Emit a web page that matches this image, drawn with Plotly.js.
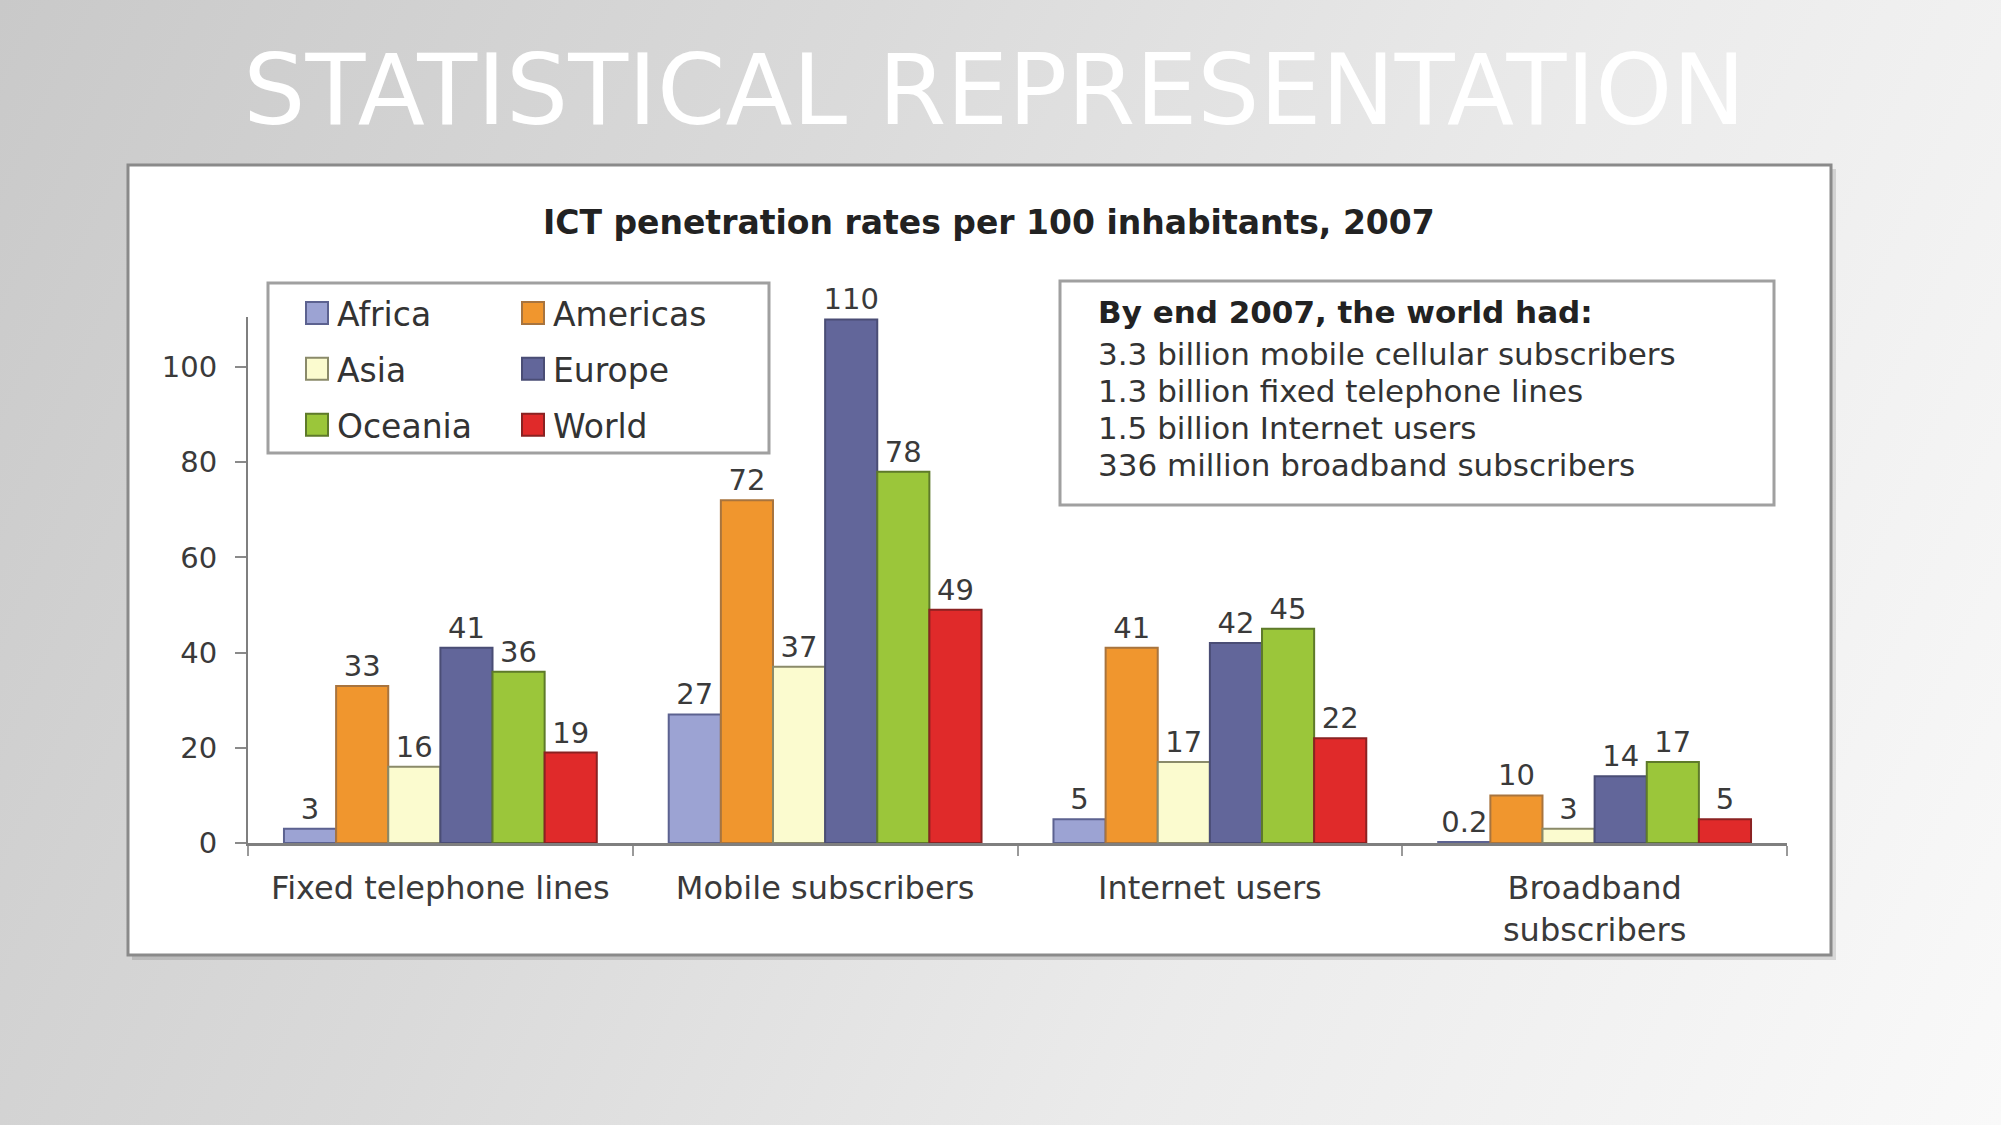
<!DOCTYPE html>
<html>
<head>
<meta charset="utf-8">
<script src="https://cdn.plot.ly/plotly-3.0.1.min.js"></script>
<style>
  html, body { margin: 0; padding: 0; width: 2001px; height: 1125px; overflow: hidden; }
  body { background: linear-gradient(115deg, #c9c9c9 0%, #dadada 35%, #ebebeb 65%, #f9f9f9 100%); }
  #chart { width: 2001px; height: 1125px; }
</style>
</head>
<body>
<div id="chart"></div>
<script>
// ---- Data ----
const categories = ["Fixed telephone lines", "Mobile subscribers", "Internet users", "Broadband<br>subscribers"];
const regions = ["Africa", "Americas", "Asia", "Europe", "Oceania", "World"];
const africa   = [3, 27, 5, 0.2];
const americas = [33, 72, 41, 10];
const asia     = [16, 37, 17, 3];
const europe   = [41, 110, 42, 14];
const oceania  = [36, 78, 45, 17];
const world    = [19, 49, 22, 5];
const yTickVals = [0, 20, 40, 60, 80, 100];
const pageTitle = "STATISTICAL REPRESENTATION";
const chartTitle = "ICT penetration rates per 100 inhabitants, 2007";
const infoHeading = "By end 2007, the world had:";
const infoLines = [
  "3.3 billion mobile cellular subscribers",
  "1.3 billion fixed telephone lines",
  "1.5 billion Internet users",
  "336 million broadband subscribers"
];

// ---- Styles ----
const seriesValues = [africa, americas, asia, europe, oceania, world];
const fills   = ["#9ca3d3", "#f0962e", "#fbfbcf", "#62669a", "#9bc63a", "#e02a2a"];
const borders = ["#5c6290", "#a8743e", "#8a8a6a", "#4a4d75", "#5e7a2a", "#8a2222"];
const legendOf = ["legend", "legend2", "legend", "legend2", "legend", "legend2"];
const FONT = "DejaVu Sans, Arial, sans-serif";

// pixel -> paper helpers (plot area: x 248..1787, y 317..843)
const L = 248, R = 1787, T = 317, B = 843;
const px = v => (v - L) / (R - L);
const py = v => (B - v) / (B - T);

const traces = regions.map((name, i) => ({
  type: "bar",
  name: name,
  x: categories,
  y: seriesValues[i],
  text: seriesValues[i].map(v => String(v)),
  textposition: "outside",
  constraintext: "none",
  cliponaxis: false,
  textfont: { family: FONT, size: 29, color: "#3a3a3a" },
  marker: { color: fills[i], line: { color: borders[i], width: 2 } },
  legend: legendOf[i],
  legendgroup: name,
  hoverinfo: "x+y+name"
}));

const legendCommon = {
  orientation: "v",
  bgcolor: "rgba(0,0,0,0)",
  borderwidth: 0,
  font: { family: FONT, size: 33, color: "#333333" },
  traceorder: "grouped",
  tracegroupgap: 10,
  xanchor: "left",
  yanchor: "top",
  itemclick: false,
  itemdoubleclick: false
};

const infoY = [353.5, 390.5, 427.5, 464.5];
const infoAnnotations = infoLines.map((t, i) => ({
  text: t, xref: "paper", yref: "paper",
  x: px(1096), y: py(infoY[i]), xanchor: "left", yanchor: "middle", align: "left", showarrow: false,
  font: { family: FONT, size: 31, color: "#333333" }
}));

const layout = {
  width: 2001,
  height: 1125,
  autosize: false,
  margin: { l: L, r: 2001 - R, t: T, b: 1125 - B, pad: 0 },
  paper_bgcolor: "rgba(0,0,0,0)",
  plot_bgcolor: "rgba(0,0,0,0)",
  title: {
    text: pageTitle,
    font: { family: FONT, size: 98, color: "#ffffff" },
    x: 0.497, xref: "container", xanchor: "center",
    y: 1 - 90 / 1125, yref: "container", yanchor: "middle"
  },
  barmode: "group",
  bargap: 0.187,
  bargroupgap: 0,
  showlegend: true,
  legend: Object.assign({}, legendCommon, { x: px(297), y: py(285) }),
  legend2: Object.assign({}, legendCommon, { x: px(513), y: py(285) }),
  xaxis: {
    type: "category",
    categoryorder: "array",
    categoryarray: categories,
    showline: true, linecolor: "#7f7f7f", linewidth: 3,
    ticks: "outside", tickson: "boundaries", ticklen: 10, tickwidth: 2, tickcolor: "#9a9a9a",
    tickfont: { family: FONT, size: 32, color: "#3a3a3a" },
    ticklabelstandoff: 15,
    showgrid: false, zeroline: false, fixedrange: true
  },
  yaxis: {
    range: [0, 110.5],
    tickvals: yTickVals,
    ticktext: yTickVals.map(String),
    showline: true, linecolor: "#7f7f7f", linewidth: 2,
    ticks: "outside", ticklen: 11, tickwidth: 2, tickcolor: "#8a8a8a",
    tickfont: { family: FONT, size: 29, color: "#3a3a3a" },
    ticklabelstandoff: 12,
    showgrid: false, zeroline: false, fixedrange: true
  },
  shapes: [
    // chart frame shadow + frame
    { type: "rect", xref: "paper", yref: "paper", layer: "below",
      x0: px(132), x1: px(1836), y0: py(960), y1: py(169),
      fillcolor: "rgba(0,0,0,0.12)", line: { width: 0 } },
    { type: "rect", xref: "paper", yref: "paper", layer: "below",
      x0: px(128), x1: px(1831), y0: py(955), y1: py(165),
      fillcolor: "#ffffff", line: { color: "#8a8a8a", width: 3 } },
    // legend box
    { type: "rect", xref: "paper", yref: "paper", layer: "below",
      x0: px(268), x1: px(769), y0: py(453), y1: py(283),
      fillcolor: "#ffffff", line: { color: "#a0a0a0", width: 3 } },
    // info box
    { type: "rect", xref: "paper", yref: "paper", layer: "below",
      x0: px(1060), x1: px(1774), y0: py(505), y1: py(281),
      fillcolor: "#ffffff", line: { color: "#a0a0a0", width: 3 } }
  ],
  annotations: [
    { text: "<b>" + chartTitle + "</b>", xref: "paper", yref: "paper",
      x: px(989), y: py(222), xanchor: "center", yanchor: "middle", showarrow: false,
      font: { family: FONT, size: 33, color: "#222222" } },
    { text: "<b>" + infoHeading + "</b>", xref: "paper", yref: "paper",
      x: px(1096), y: py(312), xanchor: "left", yanchor: "middle", align: "left", showarrow: false,
      font: { family: FONT, size: 31, color: "#222222" } }
  ].concat(infoAnnotations)
};

const gd = document.getElementById("chart");
function enlargeLegendSymbols() {
  gd.querySelectorAll(".legendpoints path").forEach(p => {
    const d = p.getAttribute("d") || "";
    if (d.indexOf("M6,6H-6V-6H6Z") === 0) {
      p.setAttribute("d", "M11,11H-11V-11H11Z");
    }
  });
}
Plotly.newPlot(gd, traces, layout, { staticPlot: true, displayModeBar: false }).then(() => {
  enlargeLegendSymbols();
  gd.on && gd.on("plotly_afterplot", enlargeLegendSymbols);
});
</script>
</body>
</html>
